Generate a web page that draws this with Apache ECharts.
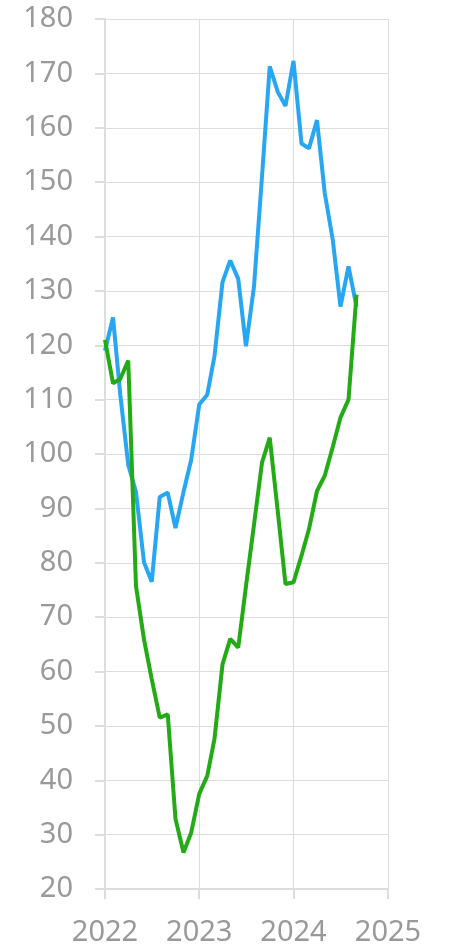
<!DOCTYPE html>
<html>
<head>
<meta charset="utf-8">
<script src="https://cdn.jsdelivr.net/npm/echarts@6/dist/echarts.min.js"></script>
<style>
  html, body { margin: 0; padding: 0; background: #fff; }
  #main { width: 451px; height: 947px; }
</style>
</head>
<body>
<div id="main"></div>
<script>
// monthly points, Jan 2022 .. Sep 2024
var months = [
  '2022-01-01', '2022-02-01', '2022-03-01', '2022-04-01', '2022-05-01', '2022-06-01',
  '2022-07-01', '2022-08-01', '2022-09-01', '2022-10-01', '2022-11-01', '2022-12-01',
  '2023-01-01', '2023-02-01', '2023-03-01', '2023-04-01', '2023-05-01', '2023-06-01',
  '2023-07-01', '2023-08-01', '2023-09-01', '2023-10-01', '2023-11-01', '2023-12-01',
  '2024-01-01', '2024-02-01', '2024-03-01', '2024-04-01', '2024-05-01', '2024-06-01',
  '2024-07-01', '2024-08-01', '2024-09-01'
];
var blueVals = [
  119, 125.1, 111, 98, 93, 80.1, 76.5, 92.1, 92.9, 86.4, 93, 99,
  109.1, 110.9, 118, 131.6, 135.6, 132.2, 119.8, 130.8, 151, 171.3, 166.6, 164,
  172.3, 157.1, 156.2, 161.4, 148, 139.4, 127.1, 134.5, 127.1
];
var greenVals = [
  121, 113, 113.8, 117.2, 75.7, 65.9, 58.6, 51.5, 52.1, 32.9, 26.7, 30.4,
  37.5, 40.8, 47.6, 61.3, 66, 64.4, 75.7, 87, 98.4, 103, 89.5, 76.1,
  76.4, 81.3, 86.2, 93.2, 96, 101.3, 106.7, 110, 129.3
];
var yearTicks = ['2022', '2023', '2024', '2025'];

function pairs(vals) {
  return vals.map(function (v, i) { return [months[i], v]; });
}

var chart = echarts.init(document.getElementById('main'));
var gridColor = '#dddddd';
var labelColor = '#999999';
var yearMs = 365 * 24 * 3600 * 1000;

var option = {
  animation: false,
  grid: { left: 105, right: 63, top: 19, bottom: 57 },
  xAxis: {
    type: 'time',
    min: yearTicks[0] + '-01-01',
    max: yearTicks[yearTicks.length - 1] + '-01-01',
    minInterval: yearMs,
    maxInterval: yearMs + 24 * 3600 * 1000,
    splitNumber: 3,
    axisLine: { lineStyle: { color: gridColor, width: 2 } },
    axisTick: { show: true, length: 10, lineStyle: { color: gridColor, width: 2 } },
    splitLine: { show: true, lineStyle: { color: gridColor, width: 1 } },
    axisLabel: {
      color: labelColor,
      fontSize: 29,
      fontFamily: 'Noto Sans',
      margin: 29,
      formatter: function (val) { return String(new Date(val).getFullYear()); },
      showMinLabel: true,
      showMaxLabel: true
    }
  },
  yAxis: {
    type: 'value',
    min: 20,
    max: 180,
    interval: 10,
    axisLine: { show: true, lineStyle: { color: gridColor, width: 2 } },
    axisTick: { show: true, length: 10, lineStyle: { color: gridColor, width: 2 } },
    splitLine: { show: true, lineStyle: { color: gridColor, width: 1 } },
    axisLabel: {
      color: labelColor,
      fontSize: 29,
      fontFamily: 'Noto Sans',
      margin: 32
    }
  },
  series: [
    {
      type: 'line',
      data: pairs(blueVals),
      showSymbol: false,
      lineStyle: { color: '#27a6f3', width: 4 },
      itemStyle: { color: '#27a6f3' }
    },
    {
      type: 'line',
      data: pairs(greenVals),
      showSymbol: false,
      lineStyle: { color: '#22ab15', width: 4 },
      itemStyle: { color: '#22ab15' }
    }
  ]
};

chart.setOption(option);
</script>
</body>
</html>
